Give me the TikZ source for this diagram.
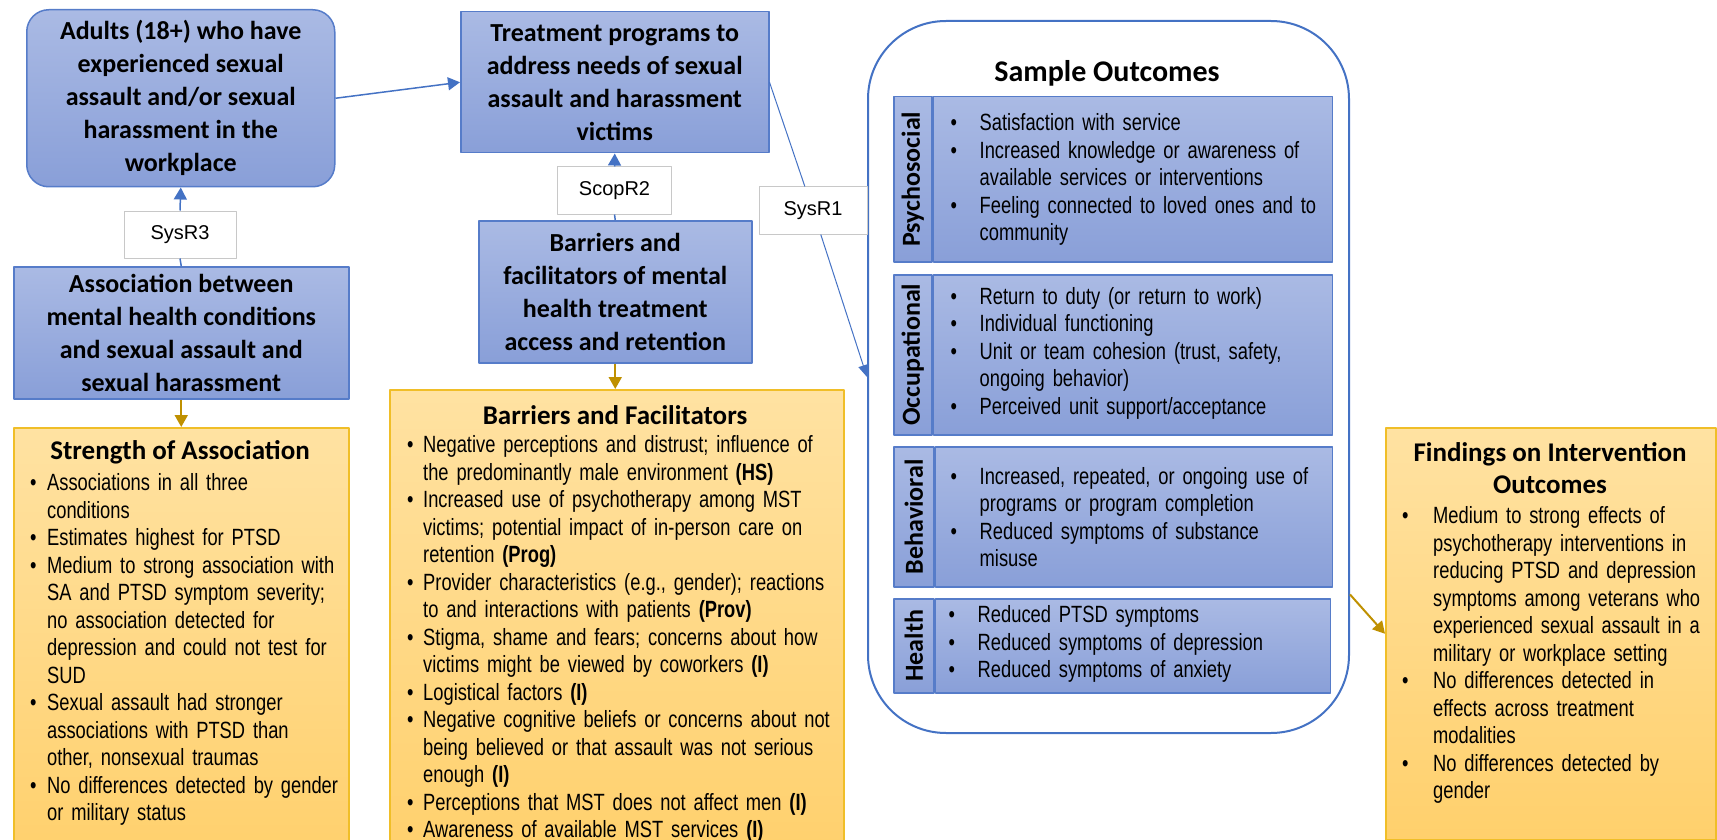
\documentclass[tikz,border=0pt]{standalone}
\usepackage{fontspec}
\usepackage{graphicx}
\setmainfont{Liberation Sans}
\newfontfamily\bodyfont[FakeStretch=0.78]{Liberation Sans}
\newfontfamily\headfont{Carlito}
\usetikzlibrary{arrows.meta,positioning}

\definecolor{bxtop}{RGB}{170,186,228}
\definecolor{bxbot}{RGB}{137,159,216}
\definecolor{bxline}{RGB}{86,124,201}
\definecolor{arrblue}{RGB}{68,114,196}
\definecolor{gdtop}{RGB}{255,226,162}
\definecolor{gdbot}{RGB}{255,208,108}
\definecolor{gdline}{RGB}{240,190,40}
\definecolor{arrgold}{RGB}{191,144,0}
\definecolor{tagline}{RGB}{200,200,200}

\newcommand\bul[2][17pt]{\par\hangindent=#1\hangafter=1\noindent\strut\makebox[#1][l]{\textbullet}#2\par}
\newcommand\nl{\hfil\break}

\tikzset{
  bluebox/.style={draw=bxline, line width=1.5pt, top color=bxtop, bottom color=bxbot,
    align=center, inner sep=0pt, anchor=north west,
    font=\headfont\bfseries\fontsize{26}{33}\selectfont},
  goldbox/.style={draw=gdline, line width=1.5pt, top color=gdtop, bottom color=gdbot,
    inner sep=0pt, anchor=north west},
  outline/.style={draw=arrblue, line width=2pt, fill=white, rounded corners=78pt,
    inner sep=0pt, anchor=north west},
  catlab/.style={draw=bxline, line width=1.5pt, top color=bxtop, bottom color=bxbot,
    inner sep=0pt, anchor=north west,
    font=\headfont\bfseries\fontsize{26}{30}\selectfont},
  catbody/.style={draw=bxline, line width=1.5pt, top color=bxtop, bottom color=bxbot,
    inner sep=0pt},
  tagbox/.style={draw=tagline, fill=white, line width=1pt, inner sep=0pt,
    minimum height=47pt, font=\fontsize{20}{24}\selectfont},
  headtext/.style={align=center, inner sep=0pt,
    font=\headfont\bfseries\fontsize{27}{32}\selectfont},
  listtext/.style={align=left, inner sep=0pt, anchor=north west, text width=440pt,
    font=\bodyfont\fontsize{23.5}{27.5}\selectfont},
  outlist/.style={listtext, anchor=west, yshift=5pt},
  bluearrow/.style={draw=arrblue, line width=1.5pt, -{Triangle[length=12pt,width=13pt]}},
  blueline/.style={draw=arrblue, line width=1.5pt},
  thinline/.style={draw=arrblue, line width=1pt},
  thinarrow/.style={draw=arrblue, line width=1pt, -{Triangle[length=12pt,width=10pt]}},
  goldarrow/.style={draw=arrgold, line width=2pt, -{Triangle[length=12pt,width=13pt]}}
}

\begin{document}
\begin{tikzpicture}[x=1pt,y=-1pt,line join=round]
\useasboundingbox (0,0) rectangle (1717,840);
% left column
\node[bluebox, rounded corners=22pt, minimum width=308, minimum height=177] (adult) at (26,9)
  {Adults (18+) who have\\experienced sexual\\assault and/or sexual\\harassment in the\\workplace};
\node[bluebox, minimum width=335, minimum height=132] (assoc) at (13,266)
  {Association between\\mental health conditions\\and sexual assault and\\sexual harassment};
\node[tagbox, minimum width=112] (sysr3) at (180,234.5) {SysR3};
\node[goldbox, minimum width=335, minimum height=433] (strbox) at (13,427) {};
\node[headtext] (strtitle) at (180,452) {Strength of Association};
\node[listtext] (strlist) at (30,463) {%
  \bul{Associations in all three\nl conditions}
  \bul{Estimates highest for PTSD}
  \bul{Medium to strong association with\nl SA and PTSD symptom severity;\nl no association detected for\nl depression and could not test for\nl SUD}
  \bul{Sexual assault had stronger\nl associations with PTSD than\nl other, nonsexual traumas}
  \bul{No differences detected by gender\nl or military status}};
% middle column
\node[bluebox, minimum width=308, minimum height=141] (treat) at (460,11)
  {Treatment programs to\\address needs of sexual\\assault and harassment\\victims};
\node[bluebox, minimum width=273, minimum height=142] (barrier) at (478,220)
  {Barriers and\\facilitators of mental\\health treatment\\access and retention};
\node[tagbox, minimum width=114] (scopr2) at (614.5,190.5) {ScopR2};
\node[goldbox, minimum width=454, minimum height=471] (bfbox) at (389,389) {};
\node[headtext] (bftitle) at (615,415) {Barriers and Facilitators};
\node[listtext, text width=460pt] (bflist) at (407,425) {\bul[16pt]{Negative perceptions and distrust; influence of\nl the predominantly male environment \textbf{(HS)}}
  \bul[16pt]{Increased use of psychotherapy among MST\nl victims; potential impact of in-person care on\nl retention \textbf{(Prog)}}
  \bul[16pt]{Provider characteristics (e.g., gender); reactions\nl to and interactions with patients \textbf{(Prov)}}
  \bul[16pt]{Stigma, shame and fears; concerns about how\nl victims might be viewed by coworkers \textbf{(I)}}
  \bul[16pt]{Logistical factors \textbf{(I)}}
  \bul[16pt]{Negative cognitive beliefs or concerns about not\nl being believed or that assault was not serious\nl enough \textbf{(I)}}
  \bul[16pt]{Perceptions that MST does not affect men \textbf{(I)}}
  \bul[16pt]{Awareness of available MST services \textbf{(I)}}};
% outcomes
\node[outline, minimum width=481, minimum height=712] (outbox) at (867,20) {};
\node[headtext, font=\headfont\bfseries\fontsize{30}{36}\selectfont] (outtitle) at (1107,73) {Sample Outcomes};
\node[tagbox, minimum width=108] (sysr1) at (813,210.5) {SysR1};
%
\node[catlab, minimum width=38, minimum height=165] (psylab) at (893,96) {\rotatebox{90}{Psychosocial}};
\node[catbody, minimum width=399, minimum height=165, anchor=north west] (psybody) at (psylab.north east) {};
\node[outlist] (psylist) at ([xshift=18pt]psybody.west) {\bul[29pt]{Satisfaction with service}
  \bul[29pt]{Increased knowledge or awareness of\nl available services or interventions}
  \bul[29pt]{Feeling connected to loved ones and to\nl community}};
\node[catlab, minimum width=38, minimum height=160] (occlab) at (893,274) {\rotatebox{90}{Occupational}};
\node[catbody, minimum width=399, minimum height=160, anchor=north west] (occbody) at (occlab.north east) {};
\node[outlist] (occlist) at ([xshift=18pt]occbody.west) {\bul[29pt]{Return to duty (or return to work)}
  \bul[29pt]{Individual functioning}
  \bul[29pt]{Unit or team cohesion (trust, safety,\nl ongoing behavior)}
  \bul[29pt]{Perceived unit support/acceptance}};
\node[catlab, minimum width=40, minimum height=140] (behlab) at (893,446) {\rotatebox{90}{Behavioral}};
\node[catbody, minimum width=397, minimum height=140, anchor=north west] (behbody) at (behlab.north east) {};
\node[outlist] (behlist) at ([xshift=16pt]behbody.west) {\bul[29pt]{Increased, repeated, or ongoing use of\nl programs or program completion}
  \bul[29pt]{Reduced symptoms of substance\nl misuse}};
\node[catlab, minimum width=40, minimum height=94] (heallab) at (893,598) {\rotatebox{90}{Health}};
\node[catbody, minimum width=395, minimum height=94, anchor=north west] (healbody) at (heallab.north east) {};
\node[outlist] (heallist) at ([xshift=14pt]healbody.west) {\bul[29pt]{Reduced PTSD symptoms}
  \bul[29pt]{Reduced symptoms of depression}
  \bul[29pt]{Reduced symptoms of anxiety}};
% findings
\node[goldbox, minimum width=330, minimum height=412] (findbox) at (1385,427) {};
\node[headtext] (findtitle) at (1550,468) {Findings on Intervention\\Outcomes};
\node[listtext, text width=330pt] (findlist) at (1402,496) {\bul[31pt]{Medium to strong effects of\nl psychotherapy interventions in\nl reducing PTSD and depression\nl symptoms among veterans who\nl experienced sexual assault in a\nl military or workplace setting}
  \bul[31pt]{No differences detected in\nl effects across treatment\nl modalities}
  \bul[31pt]{No differences detected by\nl gender}};
%
\draw[bluearrow] (adult.east) -- (treat.west);
\draw[blueline] (assoc.north) -- (sysr3.south);
\draw[bluearrow] (sysr3.north) -- (adult.south);
\draw[blueline] (barrier.north) -- (scopr2.south);
\draw[bluearrow] (scopr2.north) -- (treat.south);
\draw[thinline] (treat.east) -- (sysr1);
\draw[thinarrow] (sysr1) -- (outbox.west);
\draw[goldarrow] (assoc.south) -- (strbox.north);
\draw[goldarrow] (barrier.south) -- (barrier.south |- bfbox.north);
\draw[goldarrow] (outbox.-42.7) -- (findbox.west);
\end{tikzpicture}
\end{document}
